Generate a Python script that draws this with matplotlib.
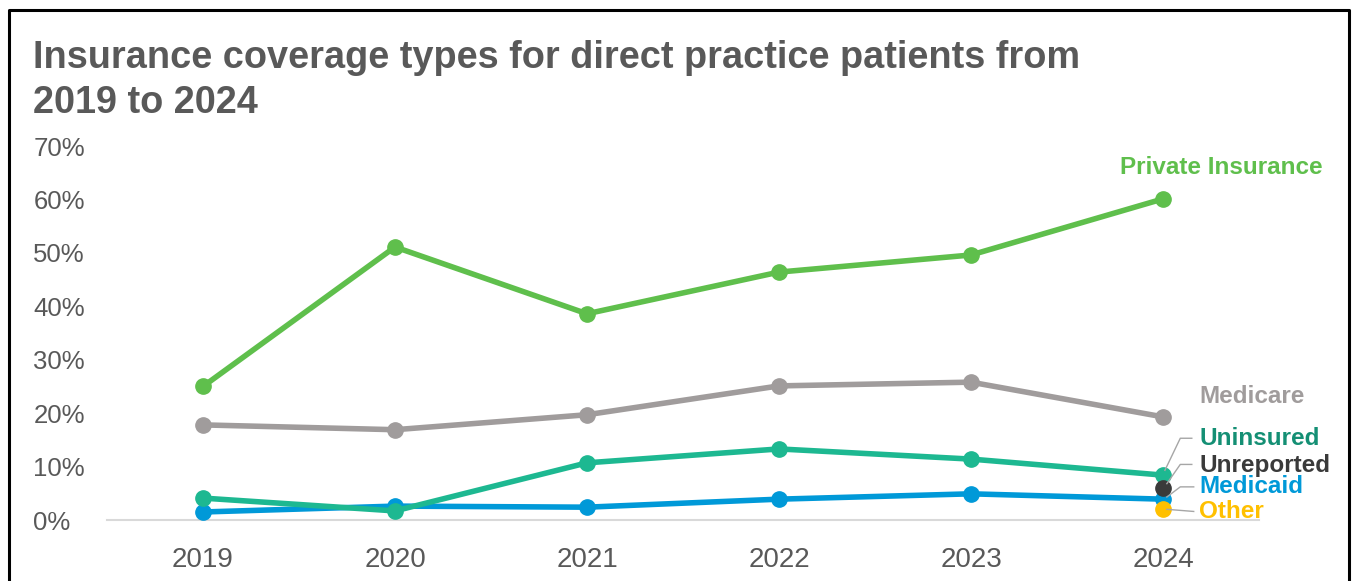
import matplotlib
matplotlib.use("Agg")
import matplotlib.pyplot as plt
from matplotlib.lines import Line2D

years = ["2019", "2020", "2021", "2022", "2023", "2024"]
private_ins = [25.0, 51.1, 38.6, 46.4, 49.6, 60.1]
medicare = [17.8, 16.9, 19.7, 25.1, 25.8, 19.3]
uninsured = [4.1, 1.7, 10.7, 13.3, 11.4, 8.4]
medicaid = [1.5, 2.6, 2.4, 3.9, 4.9, 3.9]
unreported_2024 = 6.0
other_2024 = 2.1
yticks = [0, 10, 20, 30, 40, 50, 60, 70]
ytick_labels = ["0%", "10%", "20%", "30%", "40%", "50%", "60%", "70%"]

FONT = ["Liberation Sans", "DejaVu Sans"]
plt.rcParams['font.family'] = FONT

W, H = 1354, 581
fig = plt.figure(figsize=(W / 100, H / 100), dpi=100)
ax = fig.add_axes([107 / W, (H - 520) / H, (1259 - 107) / W, (520 - 146) / H])

x = list(range(len(years)))
c_priv = "#5FBF4C"
c_med = "#A09C9C"
c_unins = "#1DB891"
c_mcaid = "#0099D8"
c_unrep = "#3A3A3A"
c_other = "#FFC000"

kw = dict(lw=4, marker="o", ms=11, clip_on=False, solid_joinstyle="round")
ax.plot(x, private_ins, color=c_priv, **kw)
ax.plot(x, medicare, color=c_med, **kw)
ax.plot(x, medicaid, color=c_mcaid, **kw)
ax.plot(x, uninsured, color=c_unins, **kw)
ax.plot([5], [unreported_2024], color=c_unrep, **kw)
ax.plot([5], [other_2024], color=c_other, **kw)

ax.set_xlim(-0.5, 5.5)
ax.set_ylim(0, 70)
ax.set_xticks(x)
ax.set_xticklabels(years)
ax.set_yticks(yticks)
ax.set_yticklabels(ytick_labels, ha="left")
ax.tick_params(axis="y", length=0, pad=53, labelsize=18.5, labelcolor="#595959")
ax.tick_params(axis="x", length=0, pad=19.5, labelsize=20, labelcolor="#595959")
for s in ["top", "right", "left"]:
    ax.spines[s].set_visible(False)
ax.spines["bottom"].set_color("#D9D9D9")
ax.spines["bottom"].set_linewidth(1.5)
ax.spines["bottom"].set_zorder(0)

# series labels
lab_kw = dict(fontsize=17.5, fontweight="bold", va="center", ha="left")
ax.text(4.776, 66.0, "Private Insurance", color=c_priv, **lab_kw)
ax.text(5.19, 23.2, "Medicare", color=c_med, **lab_kw)
ax.text(5.19, 15.3, "Uninsured", color="#148F74", **lab_kw)
ax.text(5.19, 10.2, "Unreported", color=c_unrep, **lab_kw)
ax.text(5.19, 6.2, "Medicaid", color=c_mcaid, **lab_kw)
ax.text(5.19, 1.5, "Other", color=c_other, **lab_kw)

lc = "#A6A6A6"
lkw = dict(color=lc, lw=1, clip_on=False, zorder=5)
ax.plot([5.01, 5.09, 5.15], [9.3, 15.3, 15.3], **lkw)
ax.plot([5.02, 5.09, 5.15], [6.8, 10.4, 10.4], **lkw)
ax.plot([5.02, 5.09, 5.16], [4.3, 6.2, 6.2], **lkw)
ax.plot([5.02, 5.16], [2.0, 1.6], **lkw)

# title
fig.text(33 / W, 1 - 68 / H, "Insurance coverage types for direct practice patients from",
         fontsize=27.3, fontweight="bold", color="#595959", va="baseline", ha="left")
fig.text(33 / W, 1 - 113 / H, "2019 to 2024",
         fontsize=27.3, fontweight="bold", color="#595959", va="baseline", ha="left")

# frame
fx = [9 / W, 9 / W, 1349 / W, 1349 / W]
fy = [0, 1 - 10 / H, 1 - 10 / H, 0]
fig.add_artist(Line2D(fx, fy, transform=fig.transFigure, color="black", lw=2.2))

fig.savefig("out.png", dpi=100)
